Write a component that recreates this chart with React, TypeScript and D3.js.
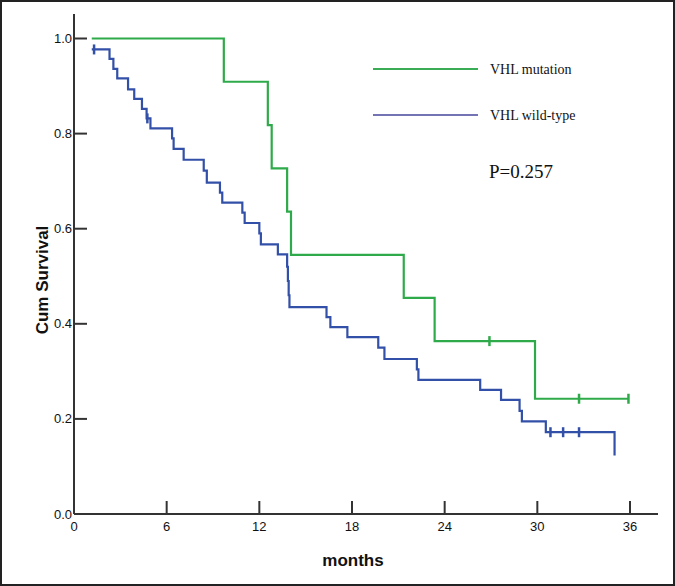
import { useEffect, useRef } from 'react';
import * as d3 from 'd3';
import React from 'react';

// time (months), cumulative survival
const mutationSteps = [
  [1.15, 1.0], [9.7, 0.909], [12.55, 0.818], [12.8, 0.727], [13.8, 0.636],
  [14.05, 0.545], [21.35, 0.4545], [23.35, 0.3636], [29.85, 0.2424], [35.9, 0.2424]
];
const mutationCensored = [[26.9, 0.3636], [32.7, 0.2424], [35.9, 0.2424]];

const wildSteps = [
  [1.15, 0.977], [2.3, 0.957], [2.55, 0.936], [2.8, 0.916], [3.5, 0.893],
  [3.9, 0.873], [4.4, 0.852], [4.7, 0.832], [4.95, 0.811], [6.35, 0.79],
  [6.45, 0.768], [7.1, 0.745], [8.4, 0.722], [8.6, 0.697], [9.45, 0.676],
  [9.6, 0.655], [10.9, 0.634], [11.05, 0.612], [12.0, 0.59], [12.1, 0.567],
  [13.2, 0.546], [13.8, 0.52], [13.85, 0.49], [13.9, 0.46], [13.95, 0.435],
  [16.35, 0.414], [16.6, 0.393], [17.7, 0.372], [19.7, 0.35], [20.1, 0.326],
  [22.2, 0.304], [22.3, 0.282], [26.3, 0.261], [27.65, 0.24], [28.85, 0.217],
  [29.0, 0.195], [30.55, 0.172], [35.0, 0.123]
];
const wildCensored = [[1.3, 0.977], [4.75, 0.832], [30.85, 0.172], [31.67, 0.172], [32.7, 0.172]];

const xTicks = [0, 6, 12, 18, 24, 30, 36];
const yTicks = [0, 0.2, 0.4, 0.6, 0.8, 1.0];

const legendItems = [
  { label: 'VHL mutation', color: '#3aac55' },
  { label: 'VHL wild-type', color: '#7474b4' }
];
const pValue = 'P=0.257';

const App = () => {
  const ref = useRef(null);

  useEffect(() => {
    const svg = d3.select(ref.current);
    svg.selectAll('*').remove();

    const W = 675, H = 586;
    const x = d3.scaleLinear().domain([0, 36]).range([74, 630]);
    const y = d3.scaleLinear().domain([0, 1]).range([514, 38.5]);

    svg.append('rect')
      .attr('x', 1).attr('y', 1).attr('width', W - 2).attr('height', H - 2)
      .attr('fill', '#fff').attr('stroke', '#222').attr('stroke-width', 2);

    const axisColor = '#333';

    // axes lines
    svg.append('line')
      .attr('x1', x(0)).attr('x2', 658).attr('y1', y(0)).attr('y2', y(0))
      .attr('stroke', axisColor).attr('stroke-width', 2);
    svg.append('line')
      .attr('x1', x(0)).attr('x2', x(0)).attr('y1', y(0)).attr('y2', 14)
      .attr('stroke', axisColor).attr('stroke-width', 2);

    // x ticks
    xTicks.forEach(t => {
      svg.append('line')
        .attr('x1', x(t)).attr('x2', x(t)).attr('y1', y(0)).attr('y2', y(0) - 13)
        .attr('stroke', axisColor).attr('stroke-width', 2);
      svg.append('text')
        .attr('x', x(t)).attr('y', y(0) + 17)
        .attr('text-anchor', 'middle')
        .attr('font-family', 'Liberation Sans, Arial, sans-serif')
        .attr('font-size', 13)
        .attr('fill', '#111')
        .text(t);
    });

    // y ticks
    yTicks.forEach(t => {
      svg.append('line')
        .attr('x1', x(0)).attr('x2', x(0) + 13).attr('y1', y(t)).attr('y2', y(t))
        .attr('stroke', axisColor).attr('stroke-width', 2);
      svg.append('text')
        .attr('x', x(0) - 2).attr('y', y(t)).attr('dy', '0.35em')
        .attr('text-anchor', 'end')
        .attr('font-family', 'Liberation Sans, Arial, sans-serif')
        .attr('font-size', 13)
        .attr('fill', '#111')
        .text(t.toFixed(1));
    });

    // axis titles
    svg.append('text')
      .attr('transform', 'translate(48,280) rotate(-90)')
      .attr('text-anchor', 'middle')
      .attr('font-family', 'Liberation Sans, Arial, sans-serif')
      .attr('font-weight', 'bold')
      .attr('font-size', 17)
      .attr('fill', '#111')
      .text('Cum Survival');
    svg.append('text')
      .attr('x', 353).attr('y', 566)
      .attr('text-anchor', 'middle')
      .attr('font-family', 'Liberation Sans, Arial, sans-serif')
      .attr('font-weight', 'bold')
      .attr('font-size', 17)
      .attr('fill', '#111')
      .text('months');

    const line = d3.line()
      .x(d => x(d[0]))
      .y(d => y(d[1]))
      .curve(d3.curveStepAfter);

    const drawCurve = (steps, censored, color) => {
      svg.append('path')
        .datum(steps)
        .attr('fill', 'none')
        .attr('stroke', color)
        .attr('stroke-width', 2.2)
        .attr('d', line);
      censored.forEach(c => {
        svg.append('line')
          .attr('x1', x(c[0])).attr('x2', x(c[0]))
          .attr('y1', y(c[1]) - 5).attr('y2', y(c[1]) + 5)
          .attr('stroke', color).attr('stroke-width', 2.5);
      });
    };

    drawCurve(wildSteps, wildCensored, '#3350a8');
    drawCurve(mutationSteps, mutationCensored, '#2faa4a');

    // legend
    legendItems.forEach((d, i) => {
      const ly = 69 + i * 46;
      svg.append('line')
        .attr('x1', 373).attr('x2', 478).attr('y1', ly).attr('y2', ly)
        .attr('stroke', d.color).attr('stroke-width', 2);
      svg.append('text')
        .attr('x', 490).attr('y', ly).attr('dy', '0.35em')
        .attr('font-family', 'Liberation Serif, Times New Roman, serif')
        .attr('font-size', 14)
        .attr('fill', '#111')
        .text(d.label);
    });
    svg.append('text')
      .attr('x', 489).attr('y', 178)
      .attr('font-family', 'Liberation Serif, Times New Roman, serif')
      .attr('font-size', 19)
      .attr('fill', '#111')
      .text(pValue);
  }, []);

  return (
    <svg ref={ref} width={675} height={586}
      style={{ position: 'absolute', left: 0, top: 0, background: '#fff' }}></svg>
  );
};

export default App;
